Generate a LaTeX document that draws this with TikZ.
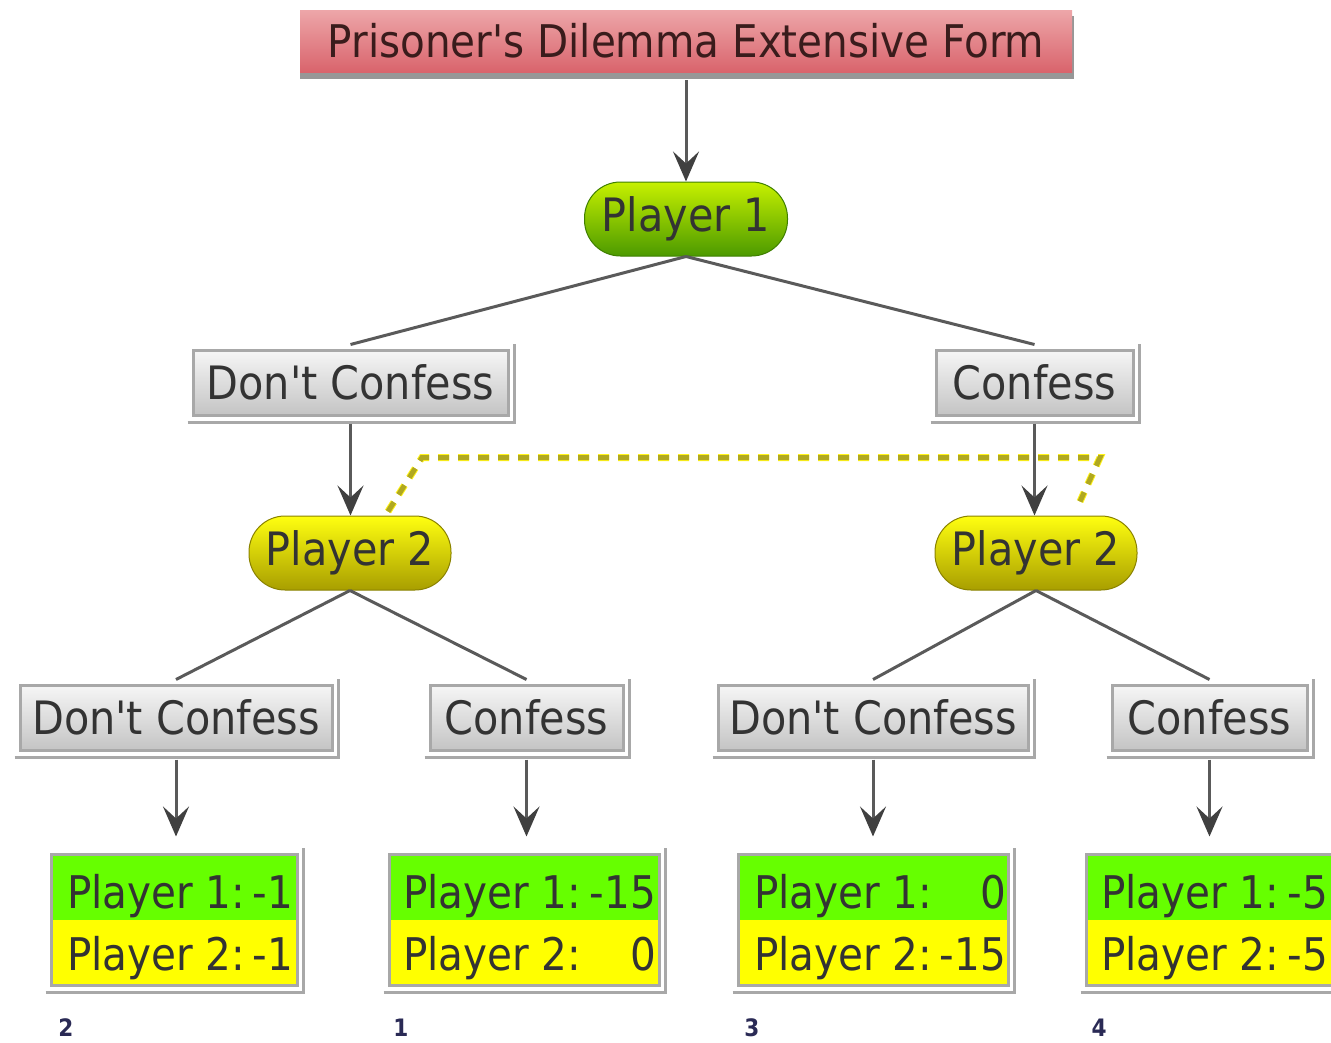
\documentclass[tikz,border=0pt]{standalone}
\usepackage{fontspec}
\newfontfamily\diafont{DejaVu Sans Condensed}
\usetikzlibrary{arrows.meta,calc}
\definecolor{titletop}{HTML}{EDA6A9}
\definecolor{titlebot}{HTML}{D9646C}
\definecolor{titletext}{HTML}{3A1C1C}
\definecolor{gtop}{HTML}{C6F000}
\definecolor{gbot}{HTML}{4C9A00}
\definecolor{gedge}{HTML}{3F7F00}
\definecolor{ytop}{HTML}{FFFF10}
\definecolor{ybot}{HTML}{A89E00}
\definecolor{yedge}{HTML}{8A8200}
\definecolor{boxgray}{HTML}{A8A8A8}
\definecolor{btop}{HTML}{F6F6F6}
\definecolor{bbot}{HTML}{C4C4C4}
\definecolor{txt}{HTML}{333333}
\definecolor{paygreen}{HTML}{66FF00}
\definecolor{payyellow}{HTML}{FFFF00}
\definecolor{infoline}{HTML}{B0A820}
\definecolor{linegray}{HTML}{5A5A5A}
\definecolor{tipgray}{HTML}{404040}
\definecolor{labelblue}{HTML}{2A2A55}
\newcommand\bigfont{\diafont\fontsize{46}{46}\selectfont}
\newcommand\payfont{\diafont\fontsize{45}{45}\selectfont}
\newcommand\shadowL[1]{\draw[shadowline] ($(#1.south west)+(-4,6)$) -- ($(#1.south east)+(5,6)$) -- ($(#1.north east)+(5,-5)$);}
\tikzset{
  titlebox/.style={rectangle, top color=titletop, bottom color=titlebot, minimum width=772pt, minimum height=62pt, inner sep=0pt, text=titletext, font=\diafont\fontsize{45}{45}\selectfont},
  pillgreen/.style={rectangle, rounded corners=36pt, top color=gtop, bottom color=gbot, draw=gedge, line width=1pt, minimum width=203pt, minimum height=74pt, inner sep=0pt, text=txt, font=\bigfont},
  pillyellow/.style={rectangle, rounded corners=36pt, top color=ytop, bottom color=ybot, draw=yedge, line width=1pt, minimum width=202pt, minimum height=74pt, inner sep=0pt, text=txt, font=\bigfont},
  choice/.style={rectangle, top color=btop, bottom color=bbot, draw=boxgray, line width=3pt, minimum height=65pt, inner sep=0pt, text=txt, font=\bigfont},
  shadowline/.style={draw=boxgray, line width=3pt},
  paybox/.style={rectangle, draw=boxgray, line width=3pt, minimum height=131pt, inner sep=0pt,
     path picture={\fill[paygreen] (path picture bounding box.north west) rectangle ($(path picture bounding box.east)+(0,1)$);
                   \fill[payyellow] (path picture bounding box.south west) rectangle (path picture bounding box.east);}},
  paytxt/.style={inner sep=0pt, text=txt, font=\payfont},
  link/.style={draw=linegray, line width=3pt},
  arrowlink/.style={draw=linegray, line width=3pt, -{Stealth[length=30pt,width=26pt,inset=12pt,color=tipgray]}},
  infoset/.style={line width=5pt, dash pattern=on 11pt off 9pt},
  idx/.style={inner sep=0pt, text=labelblue, font=\diafont\fontsize{24}{24}\selectfont\bfseries}
}
\begin{document}
\begin{tikzpicture}[x=1pt,y=-1pt]
\useasboundingbox (0,0) rectangle (1331,1042);
% title
\fill[boxgray!90!black] (300,16) rectangle (1074,79);
\node[titlebox] (title) at (686,41) {Prisoner's Dilemma Extensive Form};
% player 1
\node[pillgreen] (p1) at (686,219) {Player 1};
% first choices
\node[choice, minimum width=315pt] (dc1) at (350.5,382.5) {Don't Confess};
\shadowL{dc1}
\node[choice, minimum width=197pt] (c1) at (1034.5,382.5) {Confess};
\shadowL{c1}
% player 2 nodes
\node[pillyellow] (p2l) at (350,553) {Player 2};
\node[pillyellow] (p2r) at (1036,553) {Player 2};
% second choices
\node[choice, minimum width=312pt] (dc2) at (176,717.5) {Don't Confess};
\shadowL{dc2}
\node[choice, minimum width=193pt] (c2) at (526.5,717.5) {Confess};
\shadowL{c2}
\node[choice, minimum width=310pt] (dc3) at (873,717.5) {Don't Confess};
\shadowL{dc3}
\node[choice, minimum width=195pt] (c3) at (1209.5,717.5) {Confess};
\shadowL{c3}
% payoff boxes
\node[paybox, minimum width=246pt] (pay1) at (174,919.5) {};
\shadowL{pay1}
\node[paybox, minimum width=270pt] (pay2) at (524,919.5) {};
\shadowL{pay2}
\node[paybox, minimum width=270pt] (pay3) at (873,919.5) {};
\shadowL{pay3}
\node[paybox, minimum width=262pt] (pay4) at (1217,919.5) {};
\draw[shadowline] ($(pay4.south west)+(-4,6)$) -- ($(pay4.south east)+(5,6)$);
% payoff texts
\node[paytxt, anchor=base west] (a1) at (67,908) {Player 1:};
\node[paytxt, anchor=base east] (a1v) at (293,908) {-1};
\node[paytxt, anchor=base west] (b1) at (67,970) {Player 2:};
\node[paytxt, anchor=base east] (b1v) at (293,970) {-1};
\node[paytxt, anchor=base west] (a2) at (403,908) {Player 1:};
\node[paytxt, anchor=base east] (a2v) at (656,908) {-15};
\node[paytxt, anchor=base west] (b2) at (403,970) {Player 2:};
\node[paytxt, anchor=base east] (b2v) at (656,970) {0};
\node[paytxt, anchor=base west] (a3) at (754,908) {Player 1:};
\node[paytxt, anchor=base east] (a3v) at (1006,908) {0};
\node[paytxt, anchor=base west] (b3) at (754,970) {Player 2:};
\node[paytxt, anchor=base east] (b3v) at (1006,970) {-15};
\node[paytxt, anchor=base west] (a4) at (1101,908) {Player 1:};
\node[paytxt, anchor=base east] (a4v) at (1328,908) {-5};
\node[paytxt, anchor=base west] (b4) at (1101,970) {Player 2:};
\node[paytxt, anchor=base east] (b4v) at (1328,970) {-5};
% index labels
\node[idx] (i2) at (66,1028) {2};
\node[idx] (i1) at (401,1028) {1};
\node[idx] (i3) at (752,1028) {3};
\node[idx] (i4) at (1099,1028) {4};
% connectors
\draw[arrowlink] ($(title.south)+(0,8)$) -- (p1.north);
\draw[link] (p1.south) -- ($(dc1.north)+(0,-4)$);
\draw[link] (p1.south) -- ($(c1.north)+(0,-4)$);
\draw[arrowlink] ($(dc1.south)+(0,7)$) -- (dc1.south |- p2l.north);
\draw[arrowlink] ($(c1.south)+(0,7)$) -- (c1.south |- p2r.north);
\draw[link] (p2l.south) -- ($(dc2.north)+(0,-4)$);
\draw[link] (p2l.south) -- ($(c2.north)+(0,-4)$);
\draw[link] (p2r.south) -- ($(dc3.north)+(0,-4)$);
\draw[link] (p2r.south) -- ($(c3.north)+(0,-4)$);
\draw[arrowlink] ($(dc2.south)+(0,8)$) -- ([yshift=16pt]dc2.south |- pay1.north);
\draw[arrowlink] ($(c2.south)+(0,8)$) -- ([yshift=16pt]c2.south |- pay2.north);
\draw[arrowlink] ($(dc3.south)+(0,8)$) -- ([yshift=16pt]dc3.south |- pay3.north);
\draw[arrowlink] ($(c3.south)+(0,8)$) -- ([yshift=16pt]c3.south |- pay4.north);
% information set
\coordinate (s1) at ($(p2l.north)+(38,-4)$);
\coordinate (s2) at ($(p2l.north)+(72,-58)$);
\coordinate (s3) at ($(p2r.north)+(64,-58)$);
\coordinate (s4) at ($(p2r.north)+(44,-14)$);
\draw[infoset, draw=yellow!90!white, line width=7pt] (s1) -- (s2) -- (s3) -- (s4);
\draw[infoset, draw=infoline] (s1) -- (s2) -- (s3) -- (s4);
\end{tikzpicture}
\end{document}
